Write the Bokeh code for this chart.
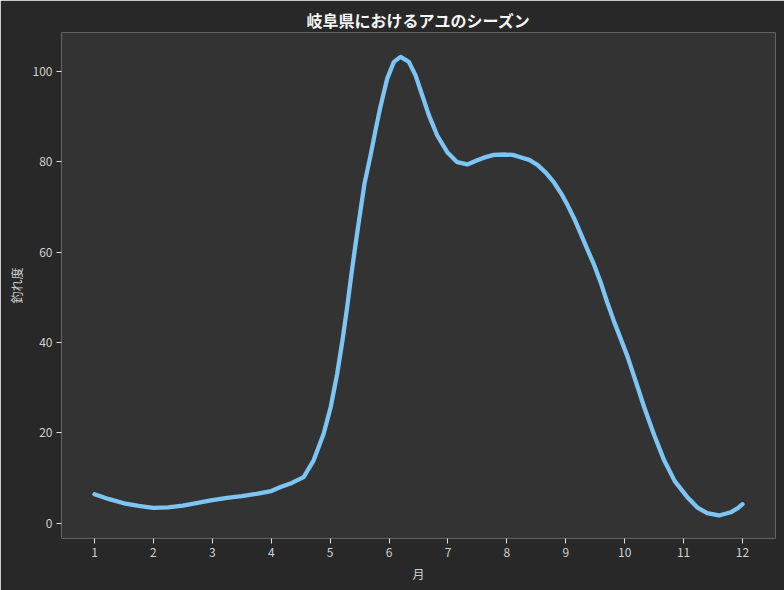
from bokeh.plotting import figure
from bokeh.models import FixedTicker, Range1d
from bokeh.embed import file_html
from bokeh.resources import INLINE

# Values (month, catch degree)
months = [1.0, 1.25, 1.5, 1.75, 2.0, 2.25, 2.5, 2.75, 3.0, 3.25, 3.5, 3.75, 4.0,
          4.16, 4.35, 4.55, 4.72, 4.89, 5.01, 5.12, 5.21, 5.29, 5.36, 5.43, 5.49,
          5.584, 5.686, 5.771, 5.856, 5.969, 6.082, 6.195, 6.337, 6.45, 6.563,
          6.676, 6.818, 6.988, 7.158, 7.328, 7.497, 7.61, 7.78, 7.95, 8.1, 8.23,
          8.38, 8.52, 8.66, 8.8, 8.92, 9.03, 9.14, 9.25, 9.37, 9.48, 9.59, 9.7,
          9.82, 9.93, 10.05, 10.19, 10.33, 10.5, 10.67, 10.85, 11.06, 11.23, 11.4,
          11.6, 11.8, 11.92, 12.0]
score = [6.4, 5.3, 4.4, 3.8, 3.4, 3.5, 3.9, 4.5, 5.1, 5.6, 6.0, 6.5, 7.1,
         8.0, 8.9, 10.2, 13.9, 19.8, 25.7, 33.1, 40.5, 47.9, 55.0, 61.6, 67.0,
         75.2, 81.4, 87.0, 92.3, 98.4, 102.1, 103.2, 102.1, 99.1, 94.7,
         90.3, 85.8, 82.1, 79.9, 79.4, 80.3, 80.9, 81.5, 81.6, 81.5, 81.0,
         80.4, 79.3, 77.6, 75.4, 73.0, 70.4, 67.5, 64.2, 60.5, 57.2, 53.4, 49.0,
         44.6, 40.9, 36.8, 31.3, 25.7, 19.5, 13.9, 9.3, 5.8, 3.5, 2.2,
         1.7, 2.4, 3.3, 4.2]
x_ticks = [1, 2, 3, 4, 5, 6, 7, 8, 9, 10, 11, 12]
y_ticks = [0, 20, 40, 60, 80, 100]

title_text = "岐阜県におけるアユのシーズン"
x_label = "月"
y_label = "釣れ度"

FONT = "Noto Sans CJK JP"

p = figure(width=784, height=590, output_backend="svg", toolbar_location=None,
           title=title_text, x_range=Range1d(0.44, 12.56), y_range=Range1d(-3.4, 108.6))
p.min_border_left = 61
p.min_border_right = 9
p.min_border_top = 32
p.min_border_bottom = 52

p.background_fill_color = "#333333"
p.border_fill_color = "#282828"
p.outline_line_color = None

p.title.text_font = FONT
p.title.text_font_style = "bold"
p.title.text_font_size = "16px"
p.title.text_color = "#f5f5f5"
p.title.align = "center"
p.title.standoff = 2
p.title.offset = 0

p.line(months, score, line_color="#7cc5f5", line_width=4.3, line_join="round", line_cap="round")

p.xgrid.visible = False
p.ygrid.visible = False

p.xaxis.ticker = FixedTicker(ticks=x_ticks)
p.yaxis.ticker = FixedTicker(ticks=y_ticks)
p.xaxis.axis_label = x_label
p.yaxis.axis_label = y_label

for ax in (p.xaxis[0], p.yaxis[0]):
    ax.axis_line_color = None
    ax.major_tick_line_color = "#e0e0e0"
    ax.major_tick_in = 0
    ax.major_tick_out = 5
    ax.minor_tick_line_color = None
    ax.major_label_text_font = FONT
    ax.major_label_text_font_size = "12px"
    ax.major_label_text_color = "#d0d0d0"
    ax.axis_label_text_font = FONT
    ax.axis_label_text_font_size = "12px"
    ax.axis_label_text_font_style = "normal"
    ax.axis_label_text_color = "#d0d0d0"
    ax.major_label_standoff = 4
    ax.axis_label_standoff = 5

open("out.html", "w").write(file_html(p, INLINE))
